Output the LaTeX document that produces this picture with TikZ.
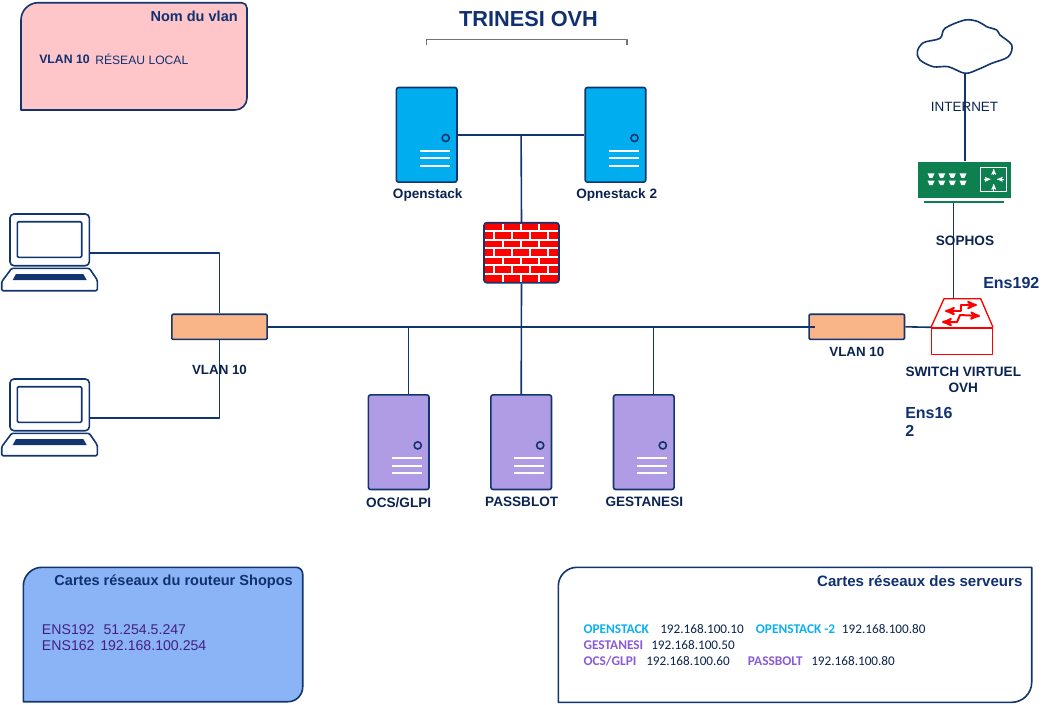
\documentclass[tikz,border=0pt]{standalone}
\usepackage{fontspec}
\setmainfont{Liberation Sans}
\newfontfamily\carlitofont{Carlito}
\usetikzlibrary{arrows,calc,positioning}
\definecolor{navyLine}{HTML}{12356F}
\definecolor{navyText}{HTML}{0B2350}
\definecolor{titleBlue}{HTML}{103070}
\definecolor{serverBlue}{HTML}{00AEEF}
\definecolor{serverPurple}{HTML}{B09CE4}
\definecolor{vlanOrange}{HTML}{F9B588}
\definecolor{routerGreen}{HTML}{0E7F4E}
\definecolor{panelPink}{HTML}{FFC6C9}
\definecolor{panelBlue}{HTML}{8AB4F5}
\definecolor{panelViolet}{HTML}{45207F}
\definecolor{labelCyan}{HTML}{0CB0F0}
\definecolor{labelViolet}{HTML}{8A5BD6}
\tikzstyle{line} = [draw=navyLine, line width=1.2pt]
\tikzstyle{serverBox} = [line, rectangle, rounded corners=1.5pt, minimum width=45.4pt, minimum height=70.9pt, inner sep=0pt]
\tikzstyle{vlanBox} = [line, rectangle, fill=vlanOrange, rounded corners=0.8pt, minimum width=71.5pt, minimum height=18.8pt, inner sep=0pt]
\tikzstyle{deviceLabel} = [text=navyText, inner sep=0pt, font=\fontsize{10.2}{12}\selectfont\bfseries]
\tikzstyle{portLabel} = [text=titleBlue, inner sep=0pt, font=\fontsize{12}{13.5}\selectfont\bfseries]
\tikzstyle{panelTitle} = [text=titleBlue, inner sep=0pt, anchor=east, font=\fontsize{10.9}{12}\selectfont\bfseries]
\tikzstyle{routerIp} = [text=panelViolet, inner sep=0pt, anchor=west, font=\fontsize{10.6}{12}\selectfont]
\tikzstyle{cardName} = [inner sep=0pt, anchor=west, font=\carlitofont\fontsize{10}{11.5}\selectfont\bfseries]
\tikzstyle{cardIp} = [text=navyText, inner sep=0pt, anchor=west, font=\carlitofont\fontsize{9.9}{11.5}\selectfont]
\begin{document}
\begin{tikzpicture}[>=stealth',line join=round,x=0.75pt,y=-0.75pt]
    \useasboundingbox (0,0) rectangle (1048,704);

    % panels
    \draw[line, fill=panelPink] (21,110) [rounded corners=13pt] -- (21,2.7) [rounded corners=4pt] -- (247,2.7) [rounded corners=9pt] -- (247,110) [sharp corners] -- cycle;
    \draw[line, fill=panelBlue] (23.3,701.7) [rounded corners=14pt] -- (23.3,567.3) [rounded corners=5pt] -- (302.7,567.3) [rounded corners=11pt] -- (302.7,701.7) [sharp corners] -- cycle;
    \draw[line] (558.3,702.3) [rounded corners=14pt] -- (558.3,567.3) [sharp corners] -- (1031.7,567.3) [rounded corners=15pt] -- (1031.7,702.3) [sharp corners] -- cycle;

    \node[panelTitle] (vlanTitle) at (238,16) {Nom du vlan};
    \node[anchor=west, inner sep=0pt, text=titleBlue, font=\fontsize{9.2}{10}\selectfont\bfseries] (vlanName) at (39,59.3) {VLAN 10};
    \node[anchor=west, inner sep=0pt, text=titleBlue, font=\fontsize{9.1}{10}\selectfont] (vlanRole) at (95,59.3) {RÉSEAU LOCAL};

    \node[panelTitle] (routerTitle) at (293,581.7) {Cartes réseaux du routeur Shopos};
    \node[routerIp] (ensA) at (41.7,630) {ENS192};
    \node[routerIp] (ensAip) at (103.3,630) {51.254.5.247};
    \node[routerIp] (ensB) at (41.7,645.7) {ENS162};
    \node[routerIp] (ensBip) at (100,645.7) {192.168.100.254};

    \node[panelTitle, font=\fontsize{11.3}{12}\selectfont\bfseries] (cardTitle) at (1022.7,581) {Cartes réseaux des serveurs};
    \node[cardName, text=labelCyan] (cardA) at (583.3,629) {OPENSTACK};
    \node[cardIp] (cardAip) at (660,629) {192.168.100.10};
    \node[cardName, text=labelCyan] (cardB) at (755.7,629) {OPENSTACK -2};
    \node[cardIp] (cardBip) at (841.7,629) {192.168.100.80};
    \node[cardName, text=labelViolet] (cardC) at (583.3,645) {GESTANESI};
    \node[cardIp] (cardCip) at (651,645) {192.168.100.50};
    \node[cardName, text=labelViolet] (cardD) at (583.3,661) {OCS/GLPI};
    \node[cardIp] (cardDip) at (646,661) {192.168.100.60};
    \node[cardName, text=labelViolet] (cardE) at (747.7,661) {PASSBOLT};
    \node[cardIp] (cardEip) at (811,661) {192.168.100.80};

    % title and bracket
    \node[text=titleBlue, inner sep=0pt, font=\fontsize{16.3}{18}\selectfont\bfseries] (mainTitle) at (528.5,19) {TRINESI OVH};
    \draw[black!55, line width=1pt] (426.5,45) -- (426.5,39.5) -- (627,39.5) -- (627,45);

    % servers
    \node[serverBox, fill=serverBlue] (openstack) at (426.7,134.8) {};
    \node[serverBox, fill=serverBlue] (opnestackB) at (615.5,134.8) {};
    \node[serverBox, fill=serverPurple] (ocs) at (398.7,442.2) {};
    \node[serverBox, fill=serverPurple] (passblot) at (521.2,442.2) {};
    \node[serverBox, fill=serverPurple] (gestanesi) at (643.8,442.2) {};

    \foreach \srv in {openstack,opnestackB,ocs,passblot,gestanesi} {
        \draw[line] ($(\srv.center)+(19,3.2)$) circle (3.6);
        \foreach \dy in {16,23.5,31}
            \draw[white, line width=1.5pt] ($(\srv.center)+(-7,\dy)$) -- ($(\srv.center)+(23,\dy)$);
    }

    \node[deviceLabel] (openstackLabel) at (427.7,194.5) {Openstack};
    \node[deviceLabel] (opnestackLabel) at (616.7,194.5) {Opnestack 2};
    \node[deviceLabel] (ocsLabel) at (398.7,502.3) {OCS/GLPI};
    \node[deviceLabel] (passblotLabel) at (521.7,502.3) {PASSBLOT};
    \node[deviceLabel] (gestanesiLabel) at (644.3,502.3) {GESTANESI};

    % firewall
    \node[line, rectangle, fill=red, rounded corners=2pt, minimum width=56.25pt, minimum height=45pt, inner sep=0pt] (firewall) at (521.5,252.7) {};
    \foreach \ry in {231,240,248,257,265,274}
        \draw[white, line width=0.8pt] (485,\ry) -- (558,\ry);
    \foreach \ry in {223.5,240,257,274}
        \foreach \vx in {503,521,539}
            \draw[white, line width=0.8pt] (\vx,\ry) -- (\vx,\ry+8);
    \foreach \ry in {231,248,265}
        \foreach \vx in {494,512,530,548}
            \draw[white, line width=0.8pt] (\vx,\ry) -- (\vx,\ry+9);

    % laptops
    \foreach \lap/\off in {laptopTop/0,laptopBottom/165} {
        \begin{scope}[shift={(0,\off)}]
            \node[line, rectangle, rounded corners=3pt, minimum width=59.5pt, minimum height=38.8pt, inner sep=0pt] (\lap) at (49.65,239.85) {};
            \draw[line, rounded corners=1pt] (17.3,221.7) rectangle (81.7,257.3);
            \draw[line, rounded corners=1pt] (11.7,268.3) -- (89.3,268.3) -- (97.3,280) -- (97.3,290.7) -- (1.7,290.7) -- (1.7,281.7) -- cycle;
            \fill[navyLine] (16,274) -- (83.3,274) -- (86.7,280) -- (12.7,280) -- cycle;
            \coordinate (\lap Port) at (89.3,252.7);
        \end{scope}
    }

    % vlan boxes
    \node[vlanBox] (vlanLeft) at (219.5,326.8) {};
    \node[vlanBox] (vlanRight) at (856.8,326.8) {};
    \coordinate (vlanRightIn) at ($(vlanRight.west)+(7,0)$);

    % router, cloud
    \node[rectangle, fill=routerGreen, minimum width=69.3pt, minimum height=27.5pt, inner sep=0pt] (sophos) at (964.5,180) {};
    \fill[routerGreen] (924,201) rectangle (1004,202.8);
    \foreach \px in {931,941.7,952.3,963}
        \foreach \py in {175.3,182.7}
            \fill[white] (\px-3.5,\py-2) -- (\px+3.5,\py-2) -- (\px+1.5,\py+2.5) -- (\px-1.5,\py+2.5) -- cycle;
    \draw[white, line width=0.7pt] (980.7,167.3) rectangle (1006.7,191.7);
    \draw[white, line width=0.6pt, ->] (993.7,175) -- (993.7,169);
    \draw[white, line width=0.6pt, ->] (983.5,179.3) -- (990.5,179.3);
    \draw[white, line width=0.6pt, ->] (1004,179.3) -- (997,179.3);
    \draw[white, line width=0.6pt, ->] (993.7,190.5) -- (993.7,184);
    \coordinate (sophosPort) at (953.4,202.8);

    \draw[line] plot[smooth cycle, tension=0.55] coordinates {(965,73.3) (948.3,66.7) (933.3,66.7) (920,60) (917.3,51.7) (923.3,42.7) (940,38.3) (945,28.3) (965,20) (978.3,21.7) (986.7,26.7) (996.7,30) (1000,35) (1011.7,45) (1008.3,56.7) (991.7,63.3) (978.3,69.3)};
    \coordinate (cloudPort) at (965,73.3);

    % virtual switch
    \node[draw=red, line width=1pt, rectangle, minimum width=45.5pt, minimum height=20pt, inner sep=0pt] (switchBox) at (962,341.3) {};
    \draw[red, line width=1pt] (switchBox.north west) -- (944,298.7) -- (980.7,298.7) -- (switchBox.north east);
    \draw[red, line width=1.5pt, <->] (945,311) -- (961,311) -- (961,305) -- (977,305);
    \draw[red, line width=1.5pt, <->] (942,322) -- (957,322) -- (960,315) -- (980,316);
    \coordinate (switchTop) at (953.4,298.7);

    % links
    \draw[line] (openstack.east) -- (opnestackB.west);
    \coordinate (upperJoin) at ($(openstack.east)!0.5!(opnestackB.west)$);
    \draw[line] (upperJoin) -- (firewall.north);
    \draw[line] (firewall.south) -- (passblot.north);
    \draw[line] (vlanLeft.east) -- (vlanRightIn);
    \coordinate (ocsDrop) at (408.4,326.8);
    \coordinate (gestanesiDrop) at (653.5,326.8);
    \draw[line] (ocsDrop) -- (ocsDrop |- ocs.north);
    \draw[line] (gestanesiDrop) -- (gestanesiDrop |- gestanesi.north);
    \draw[line] (laptopTopPort) -| (vlanLeft.north);
    \draw[line] (laptopBottomPort) -| (vlanLeft.south);
    \draw[line] (vlanRight.east) -- (switchBox.north west);
    \draw[line] (cloudPort) -- (cloudPort |- sophos.north);
    \draw[line] (sophosPort) -- (switchTop);

    % labels over links
    \node[deviceLabel, font=\fontsize{10}{12}\selectfont\bfseries] (vlanLeftLabel) at (219.5,370) {VLAN 10};
    \node[deviceLabel, font=\fontsize{10}{12}\selectfont\bfseries] (vlanRightLabel) at (856.8,352) {VLAN 10};
    \node[deviceLabel, font=\fontsize{10.1}{12}\selectfont] (internetLabel) at (964.5,107) {INTERNET};
    \node[deviceLabel] (sophosLabel) at (965,241) {SOPHOS};
    \node[deviceLabel, align=center] (switchLabel) at (963.3,380) {SWITCH VIRTUEL\\OVH};
    \node[portLabel, anchor=west] (ensUp) at (983,283.3) {Ens192};
    \node[portLabel, anchor=north west, align=left] (ensDown) at (905,407) {Ens16\\2};
\end{tikzpicture}
\end{document}
